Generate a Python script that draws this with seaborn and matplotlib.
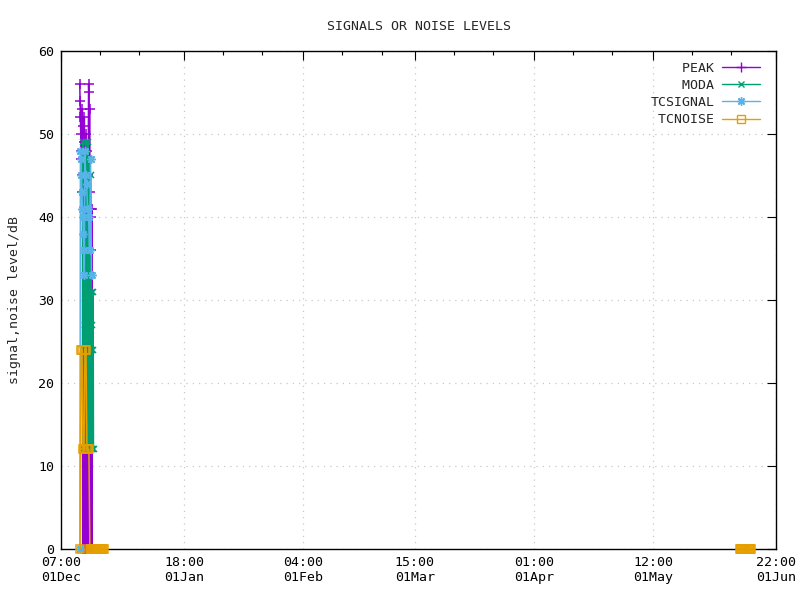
import numpy as np
import pandas as pd
import seaborn as sns
import matplotlib.pyplot as plt
import matplotlib.dates as mdates
from matplotlib.lines import Line2D

# readings taken off the chart (dB)
peak_time = ['2022-12-06 02:00', '2022-12-06 04:00', '2022-12-06 06:00', '2022-12-06 08:00',
             '2022-12-06 10:00', '2022-12-06 12:00', '2022-12-06 14:00', '2022-12-06 16:00',
             '2022-12-06 18:00', '2022-12-06 20:00', '2022-12-06 22:00', '2022-12-07 00:00',
             '2022-12-07 02:00', '2022-12-07 04:00', '2022-12-07 06:00', '2022-12-07 08:00',
             '2022-12-07 10:00', '2022-12-07 12:00', '2022-12-07 14:00', '2022-12-07 16:00',
             '2022-12-07 18:00', '2022-12-07 20:00', '2022-12-07 22:00', '2022-12-08 00:00',
             '2022-12-08 02:00', '2022-12-08 04:00', '2022-12-08 06:00', '2022-12-08 08:00',
             '2022-12-08 10:00', '2022-12-08 12:00', '2022-12-08 14:00', '2022-12-08 16:00',
             '2022-12-08 18:00', '2022-12-08 20:00', '2022-12-08 22:00', '2022-12-09 00:00',
             '2022-12-09 02:00', '2022-12-09 04:00', '2022-12-09 06:00']
peak_level = [56, 54, 52, 50, 48, 47, 45, 43, 53, 0, 51, 0, 49, 0, 52, 0, 46, 0, 50, 0,
              44, 0, 48, 0, 47, 0, 45, 56, 55, 0, 53, 0, 43, 41, 40, 36, 0, 41, 0]

moda_time = ['2022-12-06 20:00', '2022-12-06 22:00', '2022-12-07 00:00', '2022-12-07 02:00',
             '2022-12-07 04:00', '2022-12-07 06:00', '2022-12-07 08:00', '2022-12-07 10:00',
             '2022-12-07 12:00', '2022-12-07 14:00', '2022-12-07 16:00', '2022-12-07 18:00',
             '2022-12-07 20:00', '2022-12-07 22:00', '2022-12-08 00:00', '2022-12-08 02:00',
             '2022-12-08 04:00', '2022-12-08 06:00', '2022-12-08 08:00', '2022-12-08 10:00',
             '2022-12-08 12:00', '2022-12-08 14:00', '2022-12-08 16:00', '2022-12-08 18:00',
             '2022-12-08 20:00', '2022-12-08 22:00', '2022-12-09 00:00', '2022-12-09 02:00',
             '2022-12-09 04:00', '2022-12-09 06:00', '2022-12-09 08:00', '2022-12-09 10:00',
             '2022-12-09 12:00', '2022-12-09 14:00', '2022-12-09 16:00']
moda_level = [24, 49, 12, 47, 24, 45, 12, 33, 27, 49, 12, 31, 47, 24, 36, 12, 49, 27,
              33, 12, 47, 24, 31, 12, 45, 27, 33, 24, 31, 12, 27, 24, 31, 12, 12]

tcsignal_time = ['2022-12-06 03:00', '2022-12-06 06:00', '2022-12-06 09:00', '2022-12-06 12:00',
                 '2022-12-06 15:00', '2022-12-06 18:00', '2022-12-06 21:00', '2022-12-07 00:00',
                 '2022-12-07 03:00', '2022-12-07 06:00', '2022-12-07 09:00', '2022-12-07 14:00',
                 '2022-12-07 20:00', '2022-12-08 02:00', '2022-12-08 08:00', '2022-12-08 14:00',
                 '2022-12-08 20:00', '2022-12-09 02:00']
tcsignal_level = [0, 48, 47, 45, 43, 41, 40, 38, 36, 33, 48, 45, 44, 41, 40, 36, 47, 33]

tcnoise_time = ['2022-12-06 04:00', '2022-12-06 10:00', '2022-12-06 16:00', '2022-12-06 22:00',
                '2022-12-07 04:00', '2022-12-07 10:00', '2022-12-07 16:00', '2022-12-07 22:00',
                '2022-12-08 04:00', '2022-12-08 10:00', '2022-12-08 16:00', '2022-12-08 22:00',
                '2022-12-09 03:00', '2022-12-09 08:00', '2022-12-09 13:00', '2022-12-09 18:00',
                '2022-12-09 23:00', '2022-12-10 04:00', '2022-12-10 09:00', '2022-12-10 14:00',
                '2022-12-10 19:00', '2022-12-11 00:00', '2022-12-11 05:00', '2022-12-11 10:00',
                '2022-12-11 15:00', '2022-12-11 20:00', '2022-12-12 01:00', '2022-12-12 06:00',
                '2023-05-23 16:00', '2023-05-23 21:00', '2023-05-24 02:00', '2023-05-24 07:00',
                '2023-05-24 12:00', '2023-05-24 17:00', '2023-05-24 22:00', '2023-05-25 03:00',
                '2023-05-25 08:00', '2023-05-25 13:00', '2023-05-25 18:00', '2023-05-25 23:00',
                '2023-05-26 04:00', '2023-05-26 09:00', '2023-05-26 14:00']
tcnoise_level = [0, 24, 24, 12, 12, 24, 24, 12, 12, 12, 0, 0, 0, 0, 0, 0,
                 0, 0, 0, 0, 0, 0, 0, 0, 0, 0, 0, 0,
                 0, 0, 0, 0, 0, 0, 0, 0, 0, 0, 0, 0, 0, 0, 0]
tcnoise_block = [1] * 28 + [2] * 15

series = ['PEAK', 'MODA', 'TCSIGNAL', 'TCNOISE']
colors = {'PEAK': '#9400D3', 'MODA': '#009E73', 'TCSIGNAL': '#56B4E9', 'TCNOISE': '#E69F00'}
markers = {'PEAK': '+', 'MODA': 'x', 'TCSIGNAL': (8, 2, 0), 'TCNOISE': 's'}
msizes = {'PEAK': 7, 'MODA': 4.5, 'TCSIGNAL': 6, 'TCNOISE': 5.5}

xtick_times = ['2022-12-01 07:00', '2023-01-01 18:00', '2023-02-01 04:00', '2023-03-01 15:00',
               '2023-04-01 01:00', '2023-05-01 12:00', '2023-06-01 22:00']

frames = [
    pd.DataFrame({'time': pd.to_datetime(peak_time), 'level': peak_level, 'series': 'PEAK', 'block': 1}),
    pd.DataFrame({'time': pd.to_datetime(moda_time), 'level': moda_level, 'series': 'MODA', 'block': 1}),
    pd.DataFrame({'time': pd.to_datetime(tcsignal_time), 'level': tcsignal_level, 'series': 'TCSIGNAL', 'block': 1}),
    pd.DataFrame({'time': pd.to_datetime(tcnoise_time), 'level': tcnoise_level, 'series': 'TCNOISE',
                  'block': tcnoise_block}),
]

sns.set_style('white')
plt.rcParams['font.family'] = ['DejaVu Sans Mono']
plt.rcParams['font.size'] = 9.5

fig = plt.figure(figsize=(8, 6), dpi=100)
ax = fig.add_axes([61 / 800, 51 / 600, 715 / 800, 498 / 600])

for name, df in zip(series, frames):
    kw = dict(marker=markers[name], markersize=msizes[name], markeredgewidth=1.1,
              markeredgecolor=colors[name], linewidth=1.1)
    if name == 'TCNOISE':
        kw['markerfacecolor'] = 'none'
    sns.lineplot(data=df, x='time', y='level', units='block', estimator=None, sort=False,
                 color=colors[name], ax=ax, legend=False, zorder=3, clip_on=False, **kw)

xticks = pd.to_datetime(xtick_times)
ax.set_xlim(xticks[0], xticks[-1])
ax.set_ylim(0, 60)
ax.set_xticks(xticks)
ax.set_xticks([t + pd.Timedelta(days=d) for t in xticks[:-1] for d in (10, 20)], minor=True)
ax.xaxis.set_major_formatter(mdates.DateFormatter('%H:%M\n%d%b'))
ax.set_yticks(range(0, 61, 10))

ax.tick_params(which='both', direction='in', top=True, right=True, colors='black', labelsize=9.5)
ax.tick_params(which='major', length=6.5, width=0.8, pad=5)
ax.tick_params(which='minor', length=3.2, width=0.8)
for sp in ax.spines.values():
    sp.set_color('black')
    sp.set_linewidth(1)
ax.grid(True, which='major', color='#c8c8c8', linestyle=(0, (1, 4)), linewidth=0.9)

ax.set_xlabel('')
ax.set_ylabel('signal,noise level/dB', fontsize=9.5, labelpad=12)
fig.text(0.524, 1 - 26 / 600, 'SIGNALS OR NOISE LEVELS', ha='center', va='center', fontsize=9.5)

handles = []
for name in series:
    handles.append(Line2D([], [], color=colors[name], linewidth=1, marker=markers[name],
                          markersize=msizes[name], markeredgewidth=1,
                          markerfacecolor='none' if name == 'TCNOISE' else colors[name]))
labels = [s.rjust(8) for s in series]
ax.legend(handles, labels, loc='upper right', bbox_to_anchor=(1 - 5 / 715, 1), frameon=False,
          markerfirst=False, handlelength=2.9, handletextpad=0.6, labelspacing=0.32,
          borderaxespad=0.6, borderpad=0.2, fontsize=9.5)

fig.savefig('out.png', dpi=100)
